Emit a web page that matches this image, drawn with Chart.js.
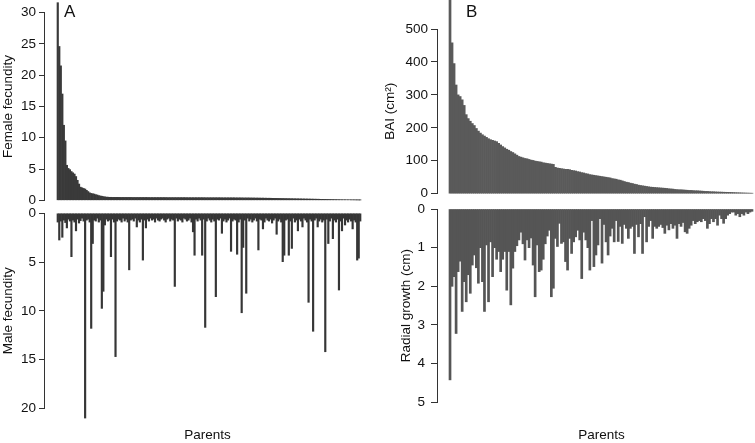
<!DOCTYPE html>
<html><head><meta charset="utf-8">
<script src="https://cdn.jsdelivr.net/npm/chart.js@4.4.0/dist/chart.umd.min.js"></script>
<style>
html,body{margin:0;padding:0;background:#fff;overflow:hidden;width:755px;height:443px;}
#wrap{position:relative;width:755px;height:443px;overflow:hidden;}
canvas{position:absolute;top:0;}
.lab{position:absolute;font-family:"Liberation Sans",Arial,Helvetica,sans-serif;font-size:17px;color:#111;line-height:1;}
</style></head><body>
<div id="wrap">
<canvas id="aTop" width="371" height="443" style="left:0px"></canvas>
<canvas id="aBot" width="371" height="443" style="left:0px"></canvas>
<canvas id="bTop" width="386" height="443" style="left:380px"></canvas>
<canvas id="bBot" width="386" height="443" style="left:380px"></canvas>
<div class="lab" style="left:64px;top:3px;">A</div>
<div class="lab" style="left:466px;top:3px;">B</div>
</div>
<script>
// Panel A: parents sorted by female fecundity
const femaleFecundity = [
31.6,24.6,21.5,17.0,12.0,9.5,5.6,5.1,4.9,4.6,
4.4,4.2,3.8,3.2,2.6,2.1,2.0,1.9,1.8,1.6,
1.4,1.2,1.1,1.05,1.0,0.9,0.85,0.75,0.7,0.65,
0.6,0.55,0.52,0.5,0.48,
0.48,0.47,0.47,0.47,0.47,0.47,0.46,0.46,0.46,0.46,
0.46,0.46,0.46,0.46,0.45,0.45,0.45,0.45,0.45,0.45,
0.45,0.45,0.45,0.45,0.45,0.44,0.44,0.44,0.44,0.44,
0.44,0.44,0.44,0.44,0.44,0.44,0.44,0.43,0.43,0.43,
0.43,0.43,0.43,0.43,0.43,0.43,0.43,0.43,0.43,0.43,
0.42,0.42,0.42,0.42,0.42,0.42,0.42,0.42,0.42,0.42,
0.42,0.42,0.41,0.41,0.41,0.41,0.41,0.41,0.41,0.41,
0.41,0.41,0.41,0.40,0.40,0.40,0.40,0.40,0.40,0.40,
0.40,0.40,0.39,0.39,0.39,0.39,0.39,0.38,0.38,0.38,
0.38,0.38,0.37,0.37,0.37,0.36,0.36,0.36,0.35,0.35,
0.35,0.34,0.34,0.33,0.33,0.33,0.32,0.32,0.31,0.31,
0.30,0.30,0.29,0.29,0.28,0.28,0.27,0.27,0.26,0.26,
0.25,0.25,0.24,0.24,0.23,0.23,0.22,0.22,0.21,0.21,
0.20,0.20,0.19,0.19,0.18,0.18,0.17,0.17,0.16,0.16,
0.15,0.15,0.14,0.14,0.13,0.13,0.12,0.12,0.11,0.11,
0.10,0.10,0.09,0.09,0.09,0.08,0.08,0.08,0.07,0.07,
0.07,0.06,0.06,0.05,0.05
];
const maleFecundity = [
0.9,2.74,0.8,2.46,0.7,0.95,1.5,0.6,0.8,4.45,
0.7,0.9,1.8,0.6,1.0,0.75,0.5,0.8,21.0,0.7,
0.6,0.9,11.8,3.1,0.7,0.8,0.5,0.9,0.7,9.75,
8.0,1.2,0.6,0.8,0.7,4.45,0.6,0.9,14.7,0.8,
0.6,0.7,0.9,0.5,0.8,0.6,0.9,5.8,0.7,0.6,
0.8,0.5,1.4,0.7,0.9,0.6,4.8,0.7,1.5,0.6,
0.8,0.5,0.7,0.6,0.9,0.5,0.7,0.8,0.6,0.5,
0.7,0.9,0.6,0.5,0.8,0.6,0.7,7.5,0.5,0.8,
0.6,0.7,0.9,0.5,0.6,0.8,0.7,0.5,0.9,1.9,
4.3,0.6,0.8,0.5,0.7,4.3,0.6,11.7,0.8,0.5,
0.7,0.9,0.6,0.8,8.55,0.6,0.7,0.5,2.05,0.8,
0.6,0.9,0.7,0.5,3.9,0.8,0.6,0.7,4.2,0.9,
0.6,10.2,3.5,0.7,8.2,0.5,0.8,0.6,0.9,0.7,
0.5,0.8,3.76,0.6,0.7,1.6,0.9,0.5,0.7,0.8,
0.6,1.0,0.7,0.5,2.15,0.8,0.6,0.9,4.96,4.3,
0.7,0.6,4.3,0.8,3.6,0.5,0.9,0.7,1.8,0.6,
0.8,1.4,0.5,0.7,0.9,9.13,0.6,0.8,12.1,0.7,
0.5,1.4,0.8,0.6,0.9,0.7,14.2,0.6,3.1,0.8,
0.5,2.6,0.7,0.9,0.6,7.87,0.8,1.8,0.5,1.2,
0.7,0.9,0.6,0.8,1.6,0.7,0.9,4.8,4.6,0.8
];
// Panel B: parents sorted by basal area increment
const bai = [
590,458,395,330,300,295,285,268,240,228,
220,213,207,198,190,184,179,175,171,167,
164,162,160,158,153,148,143,139,135,132,
128,125,121,117,113,111,109,107,106,104,
102,101,99,98,97,96,94,93,92,91,
90,89,80,78,77,76,75,74,74,73,
71,70,69,67,66,64,63,61,60,58,
57,56,55,54,53,52,51,50,49,48,
46,45,44,42,41,39,37,35,34,32,
31,29,28,26,25,24,23,22,21,20,
19.5,19,18.5,18,17.5,17,16.5,16,15,14.5,
14,13,12.5,12,12,11.5,11,10.5,10,10,
9.5,9,9,8.5,8,7.5,7,7,6.5,6,
6,5.5,5.2,5,4.8,4.5,4.3,4.1,4,3.8,
3.5,3.2,3,2.8,2.5,2.3,2.1,1.9,1.7,1.5
];
const radialGrowth = [
4.42,2.0,1.75,3.22,1.62,1.35,2.65,1.88,2.4,1.7,
2.18,1.45,1.19,1.52,1.92,1.0,1.88,2.65,0.93,2.4,
0.85,1.75,1.0,1.3,1.1,1.62,1.3,1.1,2.1,1.1,
2.48,1.53,1.1,0.95,0.8,0.6,0.9,1.32,0.8,1.0,
0.75,1.45,2.27,0.93,1.62,1.58,1.3,0.9,0.7,0.55,
2.27,2.05,0.76,0.97,0.37,0.89,0.85,1.36,1.58,0.76,
1.15,0.85,0.72,0.55,0.8,1.8,0.6,0.8,1.0,1.58,
0.3,1.49,1.19,0.93,0.25,1.4,0.4,0.85,1.19,0.7,
0.5,0.85,0.3,0.84,0.45,0.89,0.4,0.5,0.76,0.5,
0.45,1.15,0.4,0.72,0.38,1.15,0.2,0.85,0.45,0.3,
0.76,0.45,0.5,0.45,0.4,0.48,0.63,0.42,0.54,0.38,
0.5,0.42,0.76,0.38,0.45,0.35,0.59,0.63,0.5,0.42,
0.3,0.38,0.33,0.3,0.33,0.25,0.3,0.5,0.38,0.25,
0.33,0.25,0.42,0.16,0.25,0.37,0.25,0.16,0.12,0.08,
0.08,0.16,0.12,0.2,0.12,0.16,0.08,0.12,0.08,0.06
];
const femaleTicks = {min:0, max:30, step:5};
const maleTicks = {min:0, max:20, step:5};
const baiTicks = {min:0, max:500, step:100};
const radialTicks = {min:0, max:5, step:1};

const FONT = '"Liberation Sans", Arial, Helvetica, sans-serif';
const H = 443;

function panel(id, o) {
  const N = o.values.length;
  const p = (o.barEnd - o.barStart) / N;
  const xmin = -0.5 - (o.barStart - o.axis) / p;
  const xmax = xmin + (o.areaRight - o.axis) / p;
  const xScale = {
    type: 'linear', min: xmin, max: xmax, offset: false, display: !!o.xTitle,
    grid: {display: false}, border: {display: false},
    ticks: {display: false, stepSize: 100}
  };
  if (o.xTitle) {
    xScale.title = {display: true, text: o.xTitle, font: {family: FONT, size: 13.5}, color: '#111', padding: 0};
    xScale.afterFit = s => { s.height = H - o.bottom; };
  }
  return new Chart(document.getElementById(id), {
    type: 'bar',
    data: {datasets: [{
      data: o.values.map((v, i) => ({x: i, y: v})),
      backgroundColor: o.color, borderWidth: 0,
      barPercentage: 1, categoryPercentage: 1, clip: false
    }]},
    options: {
      responsive: false, animation: false, devicePixelRatio: 1,
      layout: {padding: {left: 0, right: 0, top: o.top, bottom: o.xTitle ? 0 : H - o.bottom}},
      plugins: {legend: {display: false}, tooltip: {enabled: false}},
      scales: {
        x: xScale,
        y: {
          min: o.ticks.min, max: o.ticks.max, reverse: !!o.reverse,
          ticks: {stepSize: o.ticks.step, font: {family: FONT, size: 13.5}, color: '#111', padding: o.tickPad},
          grid: {display: true, drawOnChartArea: false, drawTicks: true, tickLength: o.tickLen, color: '#333', lineWidth: 1},
          border: {display: true, color: '#333', width: 1},
          title: {display: true, text: o.yTitle, font: {family: FONT, size: 13.5}, color: '#111', padding: {top: o.titlePad, bottom: 0}},
          afterFit: s => { s.width = o.axis; }
        }
      }
    }
  });
}

panel('aTop', {values: femaleFecundity, ticks: femaleTicks, top: 12.7, bottom: 200.3,
  axis: 44, barStart: 57, barEnd: 361, areaRight: 371, titlePad: 0.4, tickLen: 5, tickPad: 3,
  yTitle: 'Female fecundity', color: '#3a3a3a'});
panel('aBot', {values: maleFecundity, ticks: maleTicks, reverse: true, top: 213.3, bottom: 408.3,
  axis: 44, barStart: 57, barEnd: 361, areaRight: 371, titlePad: 0.4, tickLen: 5, tickPad: 3,
  yTitle: 'Male fecundity', xTitle: 'Parents', color: '#363636'});
panel('bTop', {values: bai, ticks: baiTicks, top: 29, bottom: 193.7,
  axis: 57, barStart: 69, barEnd: 373, areaRight: 386, titlePad: 1.9, tickLen: 6, tickPad: 3,
  yTitle: 'BAI (cm²)', color: '#5a5a5a'});
panel('bBot', {values: radialGrowth, ticks: radialTicks, reverse: true, top: 209, bottom: 402.3,
  axis: 57, barStart: 69, barEnd: 373, areaRight: 386, titlePad: 17.9, tickLen: 6, tickPad: 6,
  yTitle: 'Radial growth (cm)', xTitle: 'Parents', color: '#555555'});
</script>
</body></html>
